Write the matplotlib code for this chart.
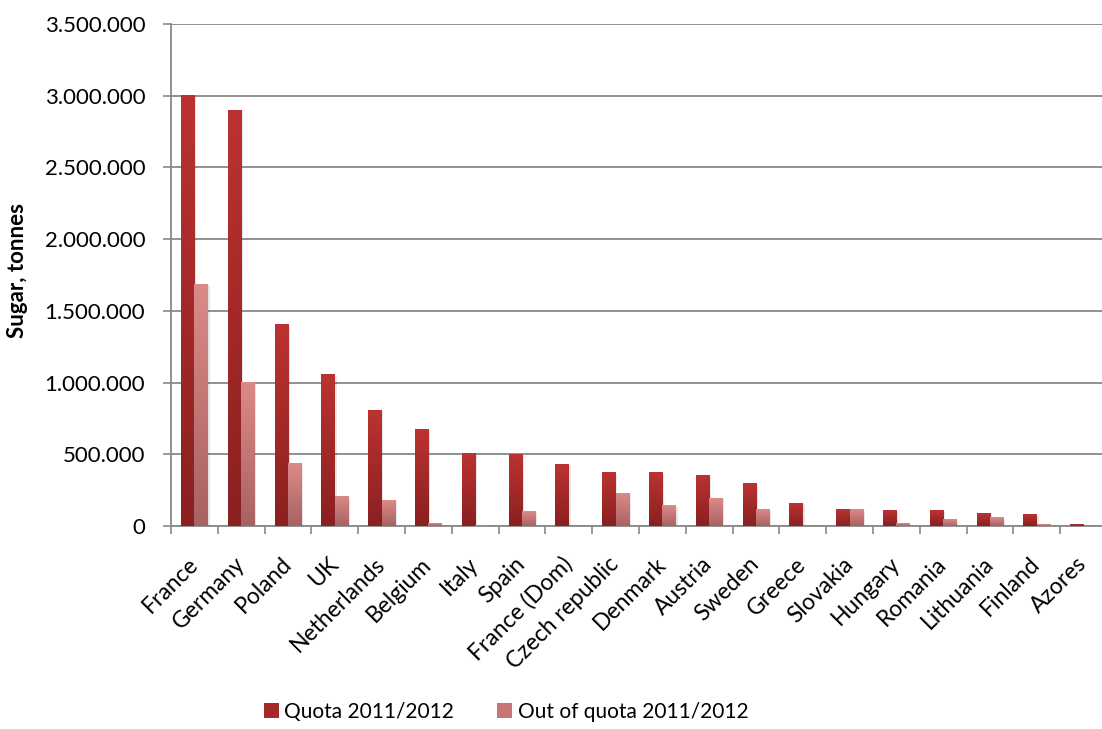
import numpy as np
import matplotlib.pyplot as plt
from matplotlib.colors import LinearSegmentedColormap
from matplotlib.ticker import FuncFormatter, FixedLocator
from matplotlib.patches import Patch

plt.rcParams['font.family'] = ['Lato', 'DejaVu Sans']

countries = ["France", "Germany", "Poland", "UK", "Netherlands", "Belgium", "Italy",
             "Spain", "France (Dom)", "Czech republic", "Denmark", "Austria", "Sweden",
             "Greece", "Slovakia", "Hungary", "Romania", "Lithuania", "Finland", "Azores"]
quota = [3004811, 2898256, 1405608, 1056474, 804888, 676235, 508379, 498480, 432220,
         372459, 372383, 351027, 293186, 158702, 112320, 105420, 104689, 90252, 80999, 9953]
out_of_quota = [1685000, 1000000, 435000, 205000, 175000, 16000, 6000, 100000, 0,
                228000, 140000, 195000, 114000, 0, 116000, 16000, 44000, 60000, 8000, 0]
series_names = ["Quota 2011/2012", "Out of quota 2011/2012"]
yticks = np.arange(0, 3500001, 500000)

GRID = "#888888"
QUOTA_TOP, QUOTA_BOT = "#bb3331", "#8a2020"
OUT_TOP, OUT_BOT = "#dc8a88", "#a86262"


def shade_bars(ax, bars, top, bottom):
    # replace the flat fill with a vertical gradient, light at the top
    cmap = LinearSegmentedColormap.from_list("bar", [bottom, top])
    grad = np.linspace(0, 1, 256).reshape(-1, 1)
    for b in bars:
        h = b.get_height()
        if h <= 0:
            continue
        x0, w = b.get_x(), b.get_width()
        # soft shadow to the lower right
        ax.add_patch(plt.Rectangle((x0 + 0.04, 0), w, h - 8000, color="#000000",
                                   alpha=0.10, lw=0, zorder=2))
        b.set_facecolor("none")
        ax.imshow(grad, extent=[x0, x0 + w, 0, h], origin="lower", aspect="auto",
                  cmap=cmap, zorder=3, interpolation="bilinear")


fig = plt.figure(figsize=(11.02, 7.29), dpi=100)
ax = fig.add_axes([171 / 1102, 1 - 526 / 729, 936 / 1102, 502 / 729])

x = np.arange(len(countries))
w = 0.285
b1 = ax.bar(x - w / 2, quota, w, color=QUOTA_TOP, zorder=3, lw=0)
b2 = ax.bar(x + w / 2, out_of_quota, w, color=OUT_TOP, zorder=3, lw=0)
shade_bars(ax, b1, QUOTA_TOP, QUOTA_BOT)
shade_bars(ax, b2, OUT_TOP, OUT_BOT)

ax.set_xlim(-0.5, len(countries) - 0.5)
ax.set_ylim(0, 3500000)

ax.set_yticks(yticks)
ax.yaxis.set_major_formatter(FuncFormatter(lambda v, p: f"{int(v):,}".replace(",", ".")))
ax.grid(axis="y", color=GRID, lw=1.3, zorder=0)
ax.set_axisbelow(True)

ax.set_xticks(x)
ax.set_xticklabels(countries, rotation=45, ha="right", va="center", rotation_mode="anchor")
ax.xaxis.set_minor_locator(FixedLocator(np.arange(-0.5, len(countries), 1.0)))
ax.tick_params(axis="x", which="major", length=0, pad=25, labelsize=16.5)
ax.tick_params(axis="x", which="minor", length=5.5, width=1.2, color=GRID)
ax.tick_params(axis="y", length=5.5, width=1.2, color=GRID, pad=13, labelsize=16)

for side in ["top", "right"]:
    ax.spines[side].set_visible(False)
for side in ["left", "bottom"]:
    ax.spines[side].set_color(GRID)
    ax.spines[side].set_linewidth(1.3)

fig.text(18 / 1102, 1 - 270 / 729, "Sugar, tonnes", rotation=90, ha="center",
         va="center", fontsize=16, fontweight="bold")

handles = [Patch(facecolor="#a42b2a", edgecolor="none"),
           Patch(facecolor="#c87473", edgecolor="none")]
fig.legend(handles, series_names, loc="center", bbox_to_anchor=(506 / 1102, 1 - 712 / 729),
           ncol=2, frameon=False, fontsize=15, handlelength=0.72, handleheight=0.72,
           handletextpad=0.25, columnspacing=2.1)

fig.savefig("out.png", dpi=100)
